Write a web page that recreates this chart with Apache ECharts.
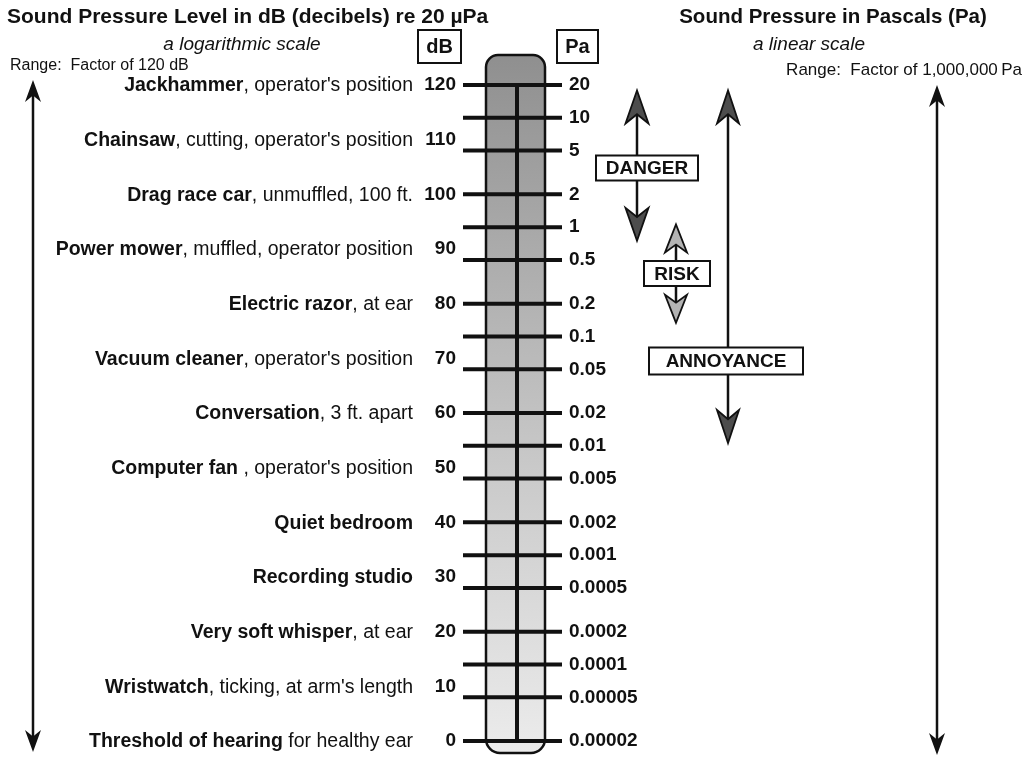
<!DOCTYPE html>
<html><head><meta charset="utf-8">
<script src="https://cdn.jsdelivr.net/npm/echarts@6/dist/echarts.min.js"></script>
<style>html,body{margin:0;padding:0;background:#fff}#c{width:1033px;height:758px}</style>
</head><body><div id="c"></div>
<script>
// ---- data ----
const dbLevels = [120,110,100,90,80,70,60,50,40,30,20,10,0];
const sourceNames = ['Jackhammer','Chainsaw','Drag race car','Power mower','Electric razor','Vacuum cleaner','Conversation','Computer fan','Quiet bedroom','Recording studio','Very soft whisper','Wristwatch','Threshold of hearing'];
const sourceDetails = [", operator's position", ", cutting, operator's position", ", unmuffled, 100 ft.", ", muffled, operator position", ", at ear", ", operator's position", ", 3 ft. apart", " , operator's position", "", "", ", at ear", ", ticking, at arm's length", " for healthy ear"];
const paLabels = ['20','10','5','2','1','0.5','0.2','0.1','0.05','0.02','0.01','0.005','0.002','0.001','0.0005','0.0002','0.0001','0.00005','0.00002'];
const paTickDb = [120,114,108,100,94,88,80,74,68,60,54,48,40,34,28,20,14,8,0];
const zoneNames = ['DANGER','RISK','ANNOYANCE'];
const zoneTopDb = [119,94.5,119];
const zoneBottomDb = [91.5,76.5,54.5];
const zoneLabelDb = [104.8,85.5,69.5];
const scaleRangeDb = [0,120];

// ---- layout / style ----
const F = "'Liberation Sans', Arial, Helvetica, sans-serif";
const INK = '#111';
function head(x, tipY, dir, w, len, notch) {
  return [[x, tipY], [x - w/2, tipY + dir*len], [x, tipY + dir*len*notch], [x + w/2, tipY + dir*len]];
}
const zoneStyle = [
  {x: 637, bx: 647, bw: 102, bh: 25, fill: '#4d4d4d', w: 23, len: 33},
  {x: 676, bx: 677, bw: 66, bh: 25, fill: '#b3b3b3', w: 22, len: 28},
  {x: 728, bx: 726, bw: 154, bh: 27, fill: '#4d4d4d', w: 22, len: 33}
];

const chart = echarts.init(document.getElementById('c'), null, {renderer: 'canvas'});
const option = {
  animation: false,
  backgroundColor: '#fff',
  grid: {left: 0, right: 0, top: 85, bottom: 17},
  xAxis: {type: 'value', min: 0, max: 1033, show: false},
  yAxis: {type: 'value', min: scaleRangeDb[0], max: scaleRangeDb[1], show: false},
  graphic: [
    {type: 'text', x: 7, y: 17, style: {text: 'Sound Pressure Level in dB (decibels) re 20 \u00b5Pa', font: 'bold 21px ' + F, fill: INK, verticalAlign: 'middle'}},
    {type: 'text', x: 242, y: 45, style: {text: 'a logarithmic scale', font: 'italic 19px ' + F, fill: INK, align: 'center', verticalAlign: 'middle'}},
    {type: 'text', x: 10, y: 66, style: {text: 'Range:  Factor of 120 dB', font: '16px ' + F, fill: INK, verticalAlign: 'middle'}},
    {type: 'text', x: 833, y: 17, style: {text: 'Sound Pressure in Pascals (Pa)', font: 'bold 20.5px ' + F, fill: INK, align: 'center', verticalAlign: 'middle'}},
    {type: 'text', x: 809, y: 45, style: {text: 'a linear scale', font: 'italic 19px ' + F, fill: INK, align: 'center', verticalAlign: 'middle'}},
    {type: 'text', x: 1022, y: 70, style: {text: 'Range:  Factor of 1,000,000\u2009Pa', font: '17px ' + F, fill: INK, align: 'right', verticalAlign: 'middle'}},
    {type: 'rect', shape: {x: 418, y: 30, width: 43, height: 33}, style: {fill: '#fff', stroke: INK, lineWidth: 2}},
    {type: 'text', x: 439.5, y: 47, style: {text: 'dB', font: 'bold 20px ' + F, fill: INK, align: 'center', verticalAlign: 'middle'}},
    {type: 'rect', shape: {x: 557, y: 30, width: 41, height: 33}, style: {fill: '#fff', stroke: INK, lineWidth: 2}},
    {type: 'text', x: 577.5, y: 47, style: {text: 'Pa', font: 'bold 20px ' + F, fill: INK, align: 'center', verticalAlign: 'middle'}}
  ],
  series: [
    // tube
    {type: 'custom', clip: false, silent: true, z: 1, data: [[scaleRangeDb[1]]],
      renderItem: function (params, api) {
        const yTop = api.coord([0, scaleRangeDb[1]])[1];
        const yBot = api.coord([0, scaleRangeDb[0]])[1];
        return {type: 'rect', shape: {x: 486, y: yTop - 30, width: 59, height: (yBot + 12) - (yTop - 30), r: [12, 12, 14, 14]},
          style: {fill: {type: 'linear', x: 0, y: 0, x2: 0, y2: 1, colorStops: [
            {offset: 0, color: '#8f8f8f'}, {offset: 0.3, color: '#adadad'}, {offset: 0.6, color: '#cacaca'}, {offset: 1, color: '#ececec'}]},
            stroke: '#111', lineWidth: 2.5}};
      }},
    // centre line + range arrows
    {type: 'custom', clip: false, silent: true, z: 3, data: [[scaleRangeDb[1]]],
      renderItem: function (params, api) {
        const yTop = api.coord([0, scaleRangeDb[1]])[1];
        const yBot = api.coord([0, scaleRangeDb[0]])[1];
        const ch = [];
        ch.push({type: 'line', shape: {x1: 517, y1: yTop, x2: 517, y2: yBot}, style: {stroke: INK, lineWidth: 4}});
        [[33, yTop - 5, yBot + 11], [937, yTop, yBot + 14]].forEach(function (a) {
          ch.push({type: 'line', shape: {x1: a[0], y1: a[1] + 12, x2: a[0], y2: a[2] - 12}, style: {stroke: INK, lineWidth: 2.5}});
          ch.push({type: 'polygon', shape: {points: head(a[0], a[1], 1, 16, 22, 0.7)}, style: {fill: INK}});
          ch.push({type: 'polygon', shape: {points: head(a[0], a[2], -1, 16, 22, 0.7)}, style: {fill: INK}});
        });
        return {type: 'group', children: ch};
      }},
    // Pa ticks and labels
    {type: 'custom', clip: false, silent: true, z: 4, data: paTickDb.map(function (d) { return [0, d]; }),
      renderItem: function (params, api) {
        const y = api.coord([0, api.value(1)])[1];
        return {type: 'group', children: [
          {type: 'line', shape: {x1: 463, y1: y, x2: 562, y2: y}, style: {stroke: INK, lineWidth: 4}},
          {type: 'text', x: 569, y: y, style: {text: paLabels[params.dataIndex], font: 'bold 19px ' + F, fill: INK, verticalAlign: 'middle'}}
        ]};
      }},
    // dB numbers and sources
    {type: 'custom', clip: false, silent: true, z: 4, data: dbLevels.map(function (d) { return [0, d]; }),
      renderItem: function (params, api) {
        const i = params.dataIndex;
        const y = api.coord([0, api.value(1)])[1];
        let txt = '{b|' + sourceNames[i] + '}';
        if (sourceDetails[i]) txt += '{r|' + sourceDetails[i] + '}';
        return {type: 'group', children: [
          {type: 'text', x: 456, y: y, style: {text: String(dbLevels[i]), font: 'bold 19px ' + F, fill: INK, align: 'right', verticalAlign: 'middle'}},
          {type: 'text', x: 413, y: y + 1, style: {text: txt, align: 'right', verticalAlign: 'middle', font: '19.5px ' + F, fill: INK,
            rich: {b: {fontWeight: 'bold', fontSize: 19.5, fontFamily: F, fill: INK}, r: {fontSize: 19.5, fontFamily: F, fill: INK}}}}
        ]};
      }},
    // zones
    {type: 'custom', clip: false, silent: true, z: 5, data: zoneNames.map(function (n, i) { return [0, zoneTopDb[i], zoneBottomDb[i], zoneLabelDb[i]]; }),
      renderItem: function (params, api) {
        const i = params.dataIndex;
        const s = zoneStyle[i];
        const yT = api.coord([0, api.value(1)])[1];
        const yB = api.coord([0, api.value(2)])[1];
        const yL = api.coord([0, api.value(3)])[1];
        return {type: 'group', children: [
          {type: 'line', shape: {x1: s.x, y1: yT + 15, x2: s.x, y2: yB - 15}, style: {stroke: INK, lineWidth: 2.5}},
          {type: 'polygon', shape: {points: head(s.x, yT, 1, s.w, s.len, 0.72)}, style: {fill: s.fill, stroke: INK, lineWidth: 1.8, lineJoin: 'miter'}},
          {type: 'polygon', shape: {points: head(s.x, yB, -1, s.w, s.len, 0.72)}, style: {fill: s.fill, stroke: INK, lineWidth: 1.8, lineJoin: 'miter'}},
          {type: 'rect', shape: {x: s.bx - s.bw/2, y: yL - s.bh/2, width: s.bw, height: s.bh}, style: {fill: '#fff', stroke: INK, lineWidth: 2}},
          {type: 'text', x: s.bx, y: yL + 1, style: {text: zoneNames[i], font: 'bold 19px ' + F, fill: INK, align: 'center', verticalAlign: 'middle'}}
        ]};
      }}
  ]
};
chart.setOption(option);
</script>
</body></html>
